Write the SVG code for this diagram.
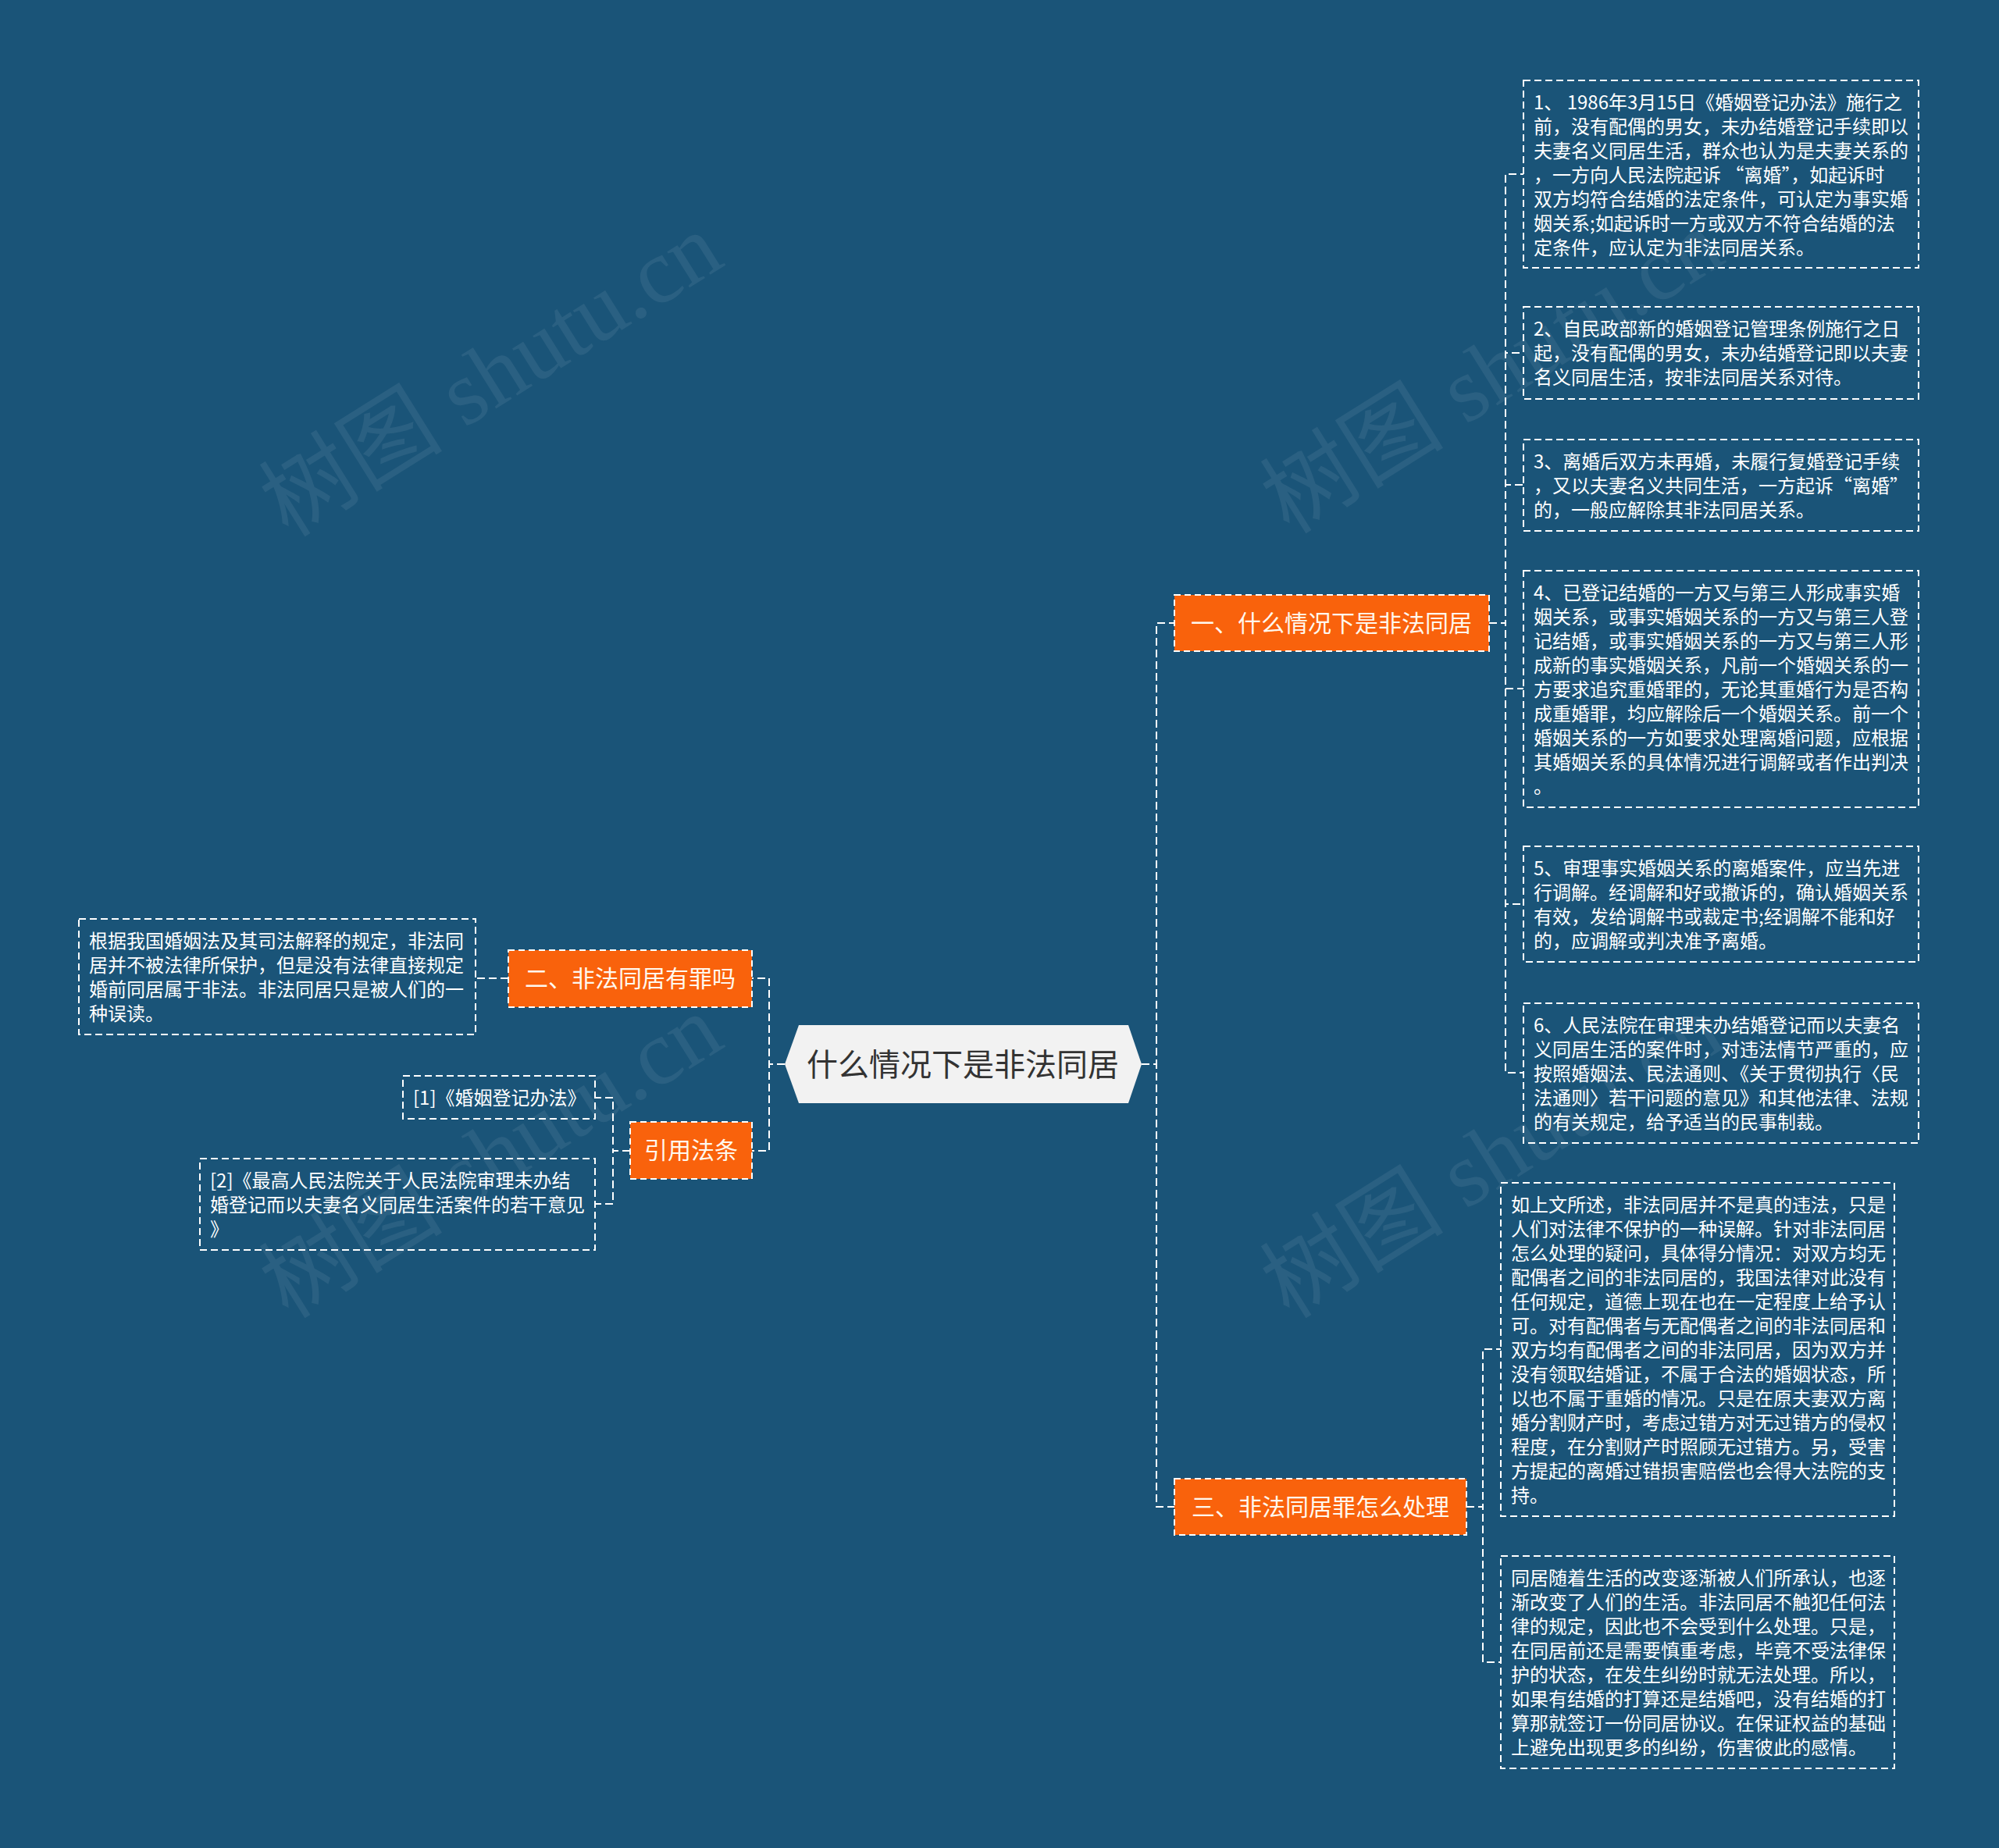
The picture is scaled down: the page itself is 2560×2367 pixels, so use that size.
<svg xmlns="http://www.w3.org/2000/svg" width="2560" height="2367" viewBox="0 0 2560 2367">
<style>
.lf{fill:none;stroke:#ffffff;stroke-width:2;stroke-dasharray:9 5}
.lt{font-family:"Noto Sans CJK SC","Microsoft YaHei",sans-serif;font-size:24px;fill:#ffffff}
.ob{fill:#f9620c;stroke:#ffffff;stroke-width:2;stroke-dasharray:8 5}
.obt{font-family:"Noto Sans CJK SC","Microsoft YaHei",sans-serif;font-size:30px;fill:#fff8ee;text-anchor:middle}
.cn{fill:none;stroke:#ffffff;stroke-width:2;stroke-dasharray:10 5}
.wm{font-family:"Liberation Serif","Noto Sans CJK SC",serif;font-size:118px;fill:#ffffff;opacity:0.07;text-anchor:middle}
</style>
<rect width="2560" height="2367" fill="#1a5478"/>
<g id="watermarks">
<text class="wm" transform="translate(650,514) rotate(-32)">树图 shutu.cn</text>
<text class="wm" transform="translate(1932,510) rotate(-32)">树图 shutu.cn</text>
<text class="wm" transform="translate(650,1515) rotate(-32)">树图 shutu.cn</text>
<text class="wm" transform="translate(1932,1515) rotate(-32)">树图 shutu.cn</text>
</g>
<g id="connectors">
<path class="cn" d="M1462 1363 H1481 V798 H1504"/>
<path class="cn" d="M1462 1363 H1481 V1930 H1504"/>
<path class="cn" d="M1005 1363 H985 V1253 H963"/>
<path class="cn" d="M1005 1363 H985 V1474 H963"/>
<path class="cn" d="M1907 798 H1928 V223 H1951"/>
<path class="cn" d="M1907 798 H1928 V452 H1951"/>
<path class="cn" d="M1907 798 H1928 V621 H1951"/>
<path class="cn" d="M1907 798 H1928 V882 H1951"/>
<path class="cn" d="M1907 798 H1928 V1158 H1951"/>
<path class="cn" d="M1907 798 H1928 V1374 H1951"/>
<path class="cn" d="M1878 1930 H1899 V1728 H1922"/>
<path class="cn" d="M1878 1930 H1899 V2129 H1922"/>
<path class="cn" d="M651 1253 H609"/>
<path class="cn" d="M807 1474 H785 V1406 H762"/>
<path class="cn" d="M807 1474 H785 V1542 H762"/>
</g>
<g id="root">
<polygon points="1005,1363 1023,1313 1445,1313 1462,1363 1445,1413 1023,1413" fill="#f2f2f2"/>
<text x="1233" y="1378" font-family="Noto Sans CJK SC, Microsoft YaHei, sans-serif" font-size="40" fill="#333333" text-anchor="middle">什么情况下是非法同居</text>
</g>
<g id="branch1">
<rect class="ob" x="1504" y="762" width="403" height="72"/>
<text class="obt" x="1705" y="809">一、什么情况下是非法同居</text>
</g>
<g id="branch2">
<rect class="ob" x="651" y="1217" width="312" height="73"/>
<text class="obt" x="807" y="1264">二、非法同居有罪吗</text>
</g>
<g id="branch3">
<rect class="ob" x="1504" y="1894" width="374" height="72"/>
<text class="obt" x="1691" y="1941">三、非法同居罪怎么处理</text>
</g>
<g id="branch4">
<rect class="ob" x="807" y="1437" width="156" height="73"/>
<text class="obt" x="885" y="1484">引用法条</text>
</g>
<g id="leaf1">
<rect class="lf" x="1951" y="103" width="506" height="240"/>
<text class="lt" x="1964" y="140"><tspan x="1964">1、 1986年3月15日《婚姻登记办法》施行之</tspan><tspan x="1964" dy="31">前，没有配偶的男女，未办结婚登记手续即以</tspan><tspan x="1964" dy="31">夫妻名义同居生活，群众也认为是夫妻关系的</tspan><tspan x="1964" dy="31">，一方向人民法院起诉 “离婚”，如起诉时</tspan><tspan x="1964" dy="31">双方均符合结婚的法定条件，可认定为事实婚</tspan><tspan x="1964" dy="31">姻关系;如起诉时一方或双方不符合结婚的法</tspan><tspan x="1964" dy="31">定条件，应认定为非法同居关系。</tspan></text>
</g>
<g id="leaf2">
<rect class="lf" x="1951" y="393" width="506" height="118"/>
<text class="lt" x="1964" y="430"><tspan x="1964">2、自民政部新的婚姻登记管理条例施行之日</tspan><tspan x="1964" dy="31">起，没有配偶的男女，未办结婚登记即以夫妻</tspan><tspan x="1964" dy="31">名义同居生活，按非法同居关系对待。</tspan></text>
</g>
<g id="leaf3">
<rect class="lf" x="1951" y="563" width="506" height="117"/>
<text class="lt" x="1964" y="600"><tspan x="1964">3、离婚后双方未再婚，未履行复婚登记手续</tspan><tspan x="1964" dy="31">，又以夫妻名义共同生活，一方起诉“离婚”</tspan><tspan x="1964" dy="31">的，一般应解除其非法同居关系。</tspan></text>
</g>
<g id="leaf4">
<rect class="lf" x="1951" y="731" width="506" height="303"/>
<text class="lt" x="1964" y="768"><tspan x="1964">4、已登记结婚的一方又与第三人形成事实婚</tspan><tspan x="1964" dy="31">姻关系，或事实婚姻关系的一方又与第三人登</tspan><tspan x="1964" dy="31">记结婚，或事实婚姻关系的一方又与第三人形</tspan><tspan x="1964" dy="31">成新的事实婚姻关系，凡前一个婚姻关系的一</tspan><tspan x="1964" dy="31">方要求追究重婚罪的，无论其重婚行为是否构</tspan><tspan x="1964" dy="31">成重婚罪，均应解除后一个婚姻关系。前一个</tspan><tspan x="1964" dy="31">婚姻关系的一方如要求处理离婚问题，应根据</tspan><tspan x="1964" dy="31">其婚姻关系的具体情况进行调解或者作出判决</tspan><tspan x="1964" dy="31">。</tspan></text>
</g>
<g id="leaf5">
<rect class="lf" x="1951" y="1084" width="506" height="148"/>
<text class="lt" x="1964" y="1121"><tspan x="1964">5、审理事实婚姻关系的离婚案件，应当先进</tspan><tspan x="1964" dy="31">行调解。经调解和好或撤诉的，确认婚姻关系</tspan><tspan x="1964" dy="31">有效，发给调解书或裁定书;经调解不能和好</tspan><tspan x="1964" dy="31">的，应调解或判决准予离婚。</tspan></text>
</g>
<g id="leaf6">
<rect class="lf" x="1951" y="1285" width="506" height="179"/>
<text class="lt" x="1964" y="1322"><tspan x="1964">6、人民法院在审理未办结婚登记而以夫妻名</tspan><tspan x="1964" dy="31">义同居生活的案件时，对违法情节严重的，应</tspan><tspan x="1964" dy="31">按照婚姻法、民法通则、《关于贯彻执行〈民</tspan><tspan x="1964" dy="31">法通则〉若干问题的意见》和其他法律、法规</tspan><tspan x="1964" dy="31">的有关规定，给予适当的民事制裁。</tspan></text>
</g>
<g id="leaf7">
<rect class="lf" x="1922" y="1515" width="504" height="427"/>
<text class="lt" x="1935" y="1552"><tspan x="1935">如上文所述，非法同居并不是真的违法，只是</tspan><tspan x="1935" dy="31">人们对法律不保护的一种误解。针对非法同居</tspan><tspan x="1935" dy="31">怎么处理的疑问，具体得分情况：对双方均无</tspan><tspan x="1935" dy="31">配偶者之间的非法同居的，我国法律对此没有</tspan><tspan x="1935" dy="31">任何规定，道德上现在也在一定程度上给予认</tspan><tspan x="1935" dy="31">可。对有配偶者与无配偶者之间的非法同居和</tspan><tspan x="1935" dy="31">双方均有配偶者之间的非法同居，因为双方并</tspan><tspan x="1935" dy="31">没有领取结婚证，不属于合法的婚姻状态，所</tspan><tspan x="1935" dy="31">以也不属于重婚的情况。只是在原夫妻双方离</tspan><tspan x="1935" dy="31">婚分割财产时，考虑过错方对无过错方的侵权</tspan><tspan x="1935" dy="31">程度，在分割财产时照顾无过错方。另，受害</tspan><tspan x="1935" dy="31">方提起的离婚过错损害赔偿也会得大法院的支</tspan><tspan x="1935" dy="31">持。</tspan></text>
</g>
<g id="leaf8">
<rect class="lf" x="1922" y="1993" width="504" height="272"/>
<text class="lt" x="1935" y="2030"><tspan x="1935">同居随着生活的改变逐渐被人们所承认，也逐</tspan><tspan x="1935" dy="31">渐改变了人们的生活。非法同居不触犯任何法</tspan><tspan x="1935" dy="31">律的规定，因此也不会受到什么处理。只是，</tspan><tspan x="1935" dy="31">在同居前还是需要慎重考虑，毕竟不受法律保</tspan><tspan x="1935" dy="31">护的状态，在发生纠纷时就无法处理。所以，</tspan><tspan x="1935" dy="31">如果有结婚的打算还是结婚吧，没有结婚的打</tspan><tspan x="1935" dy="31">算那就签订一份同居协议。在保证权益的基础</tspan><tspan x="1935" dy="31">上避免出现更多的纠纷，伤害彼此的感情。</tspan></text>
</g>
<g id="leaf9">
<rect class="lf" x="101" y="1177" width="508" height="148"/>
<text class="lt" x="114" y="1214"><tspan x="114">根据我国婚姻法及其司法解释的规定，非法同</tspan><tspan x="114" dy="31">居并不被法律所保护，但是没有法律直接规定</tspan><tspan x="114" dy="31">婚前同居属于非法。非法同居只是被人们的一</tspan><tspan x="114" dy="31">种误读。</tspan></text>
</g>
<g id="leaf10">
<rect class="lf" x="516" y="1378" width="246" height="55"/>
<text class="lt" x="529" y="1415">[1]《婚姻登记办法》</text>
</g>
<g id="leaf11">
<rect class="lf" x="256" y="1484" width="506" height="117"/>
<text class="lt" x="269" y="1521"><tspan x="269">[2]《最高人民法院关于人民法院审理未办结</tspan><tspan x="269" dy="31">婚登记而以夫妻名义同居生活案件的若干意见</tspan><tspan x="269" dy="31">》</tspan></text>
</g>
</svg>
